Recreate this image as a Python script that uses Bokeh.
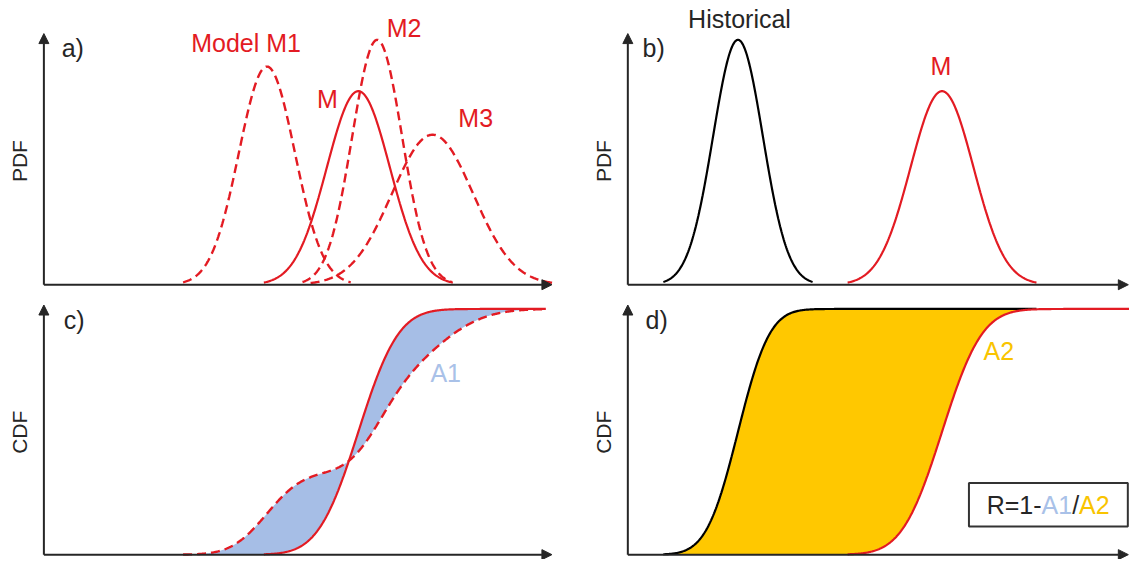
import math
import numpy as np
from bokeh.plotting import figure
from bokeh.layouts import column, row
from bokeh.models import Range1d, Arrow, NormalHead, Label, BoxAnnotation
from bokeh.embed import file_html
from bokeh.resources import INLINE

# ---------------- data (x in axis units: x-axis length = 10) ----------------
model_names = ["Model M1", "M2", "M3"]
model_means = [4.39, 6.56, 7.65]
model_sds = [0.55, 0.49, 0.80]
m_name = "M"
m_mean = 6.19
m_sd = 0.62
hist_name = "Historical"
hist_mean = 2.17
hist_sd = 0.49
cut_sd = 3.0          # each curve is drawn within +/- 3 sd
panel_tags = ["a)", "b)", "c)", "d)"]
area_names = ["A1", "A2"]

RED = "#e31b23"
BLUE_FILL = "#a6bee6"
BLUE_TXT = "#a9c1e8"
YELLOW = "#ffc800"
YELLOW_TXT = "#f9c400"
DARK = "#262626"
FONT = "Liberation Sans"
FS = "25px"
FS_AX = "21px"

erf = np.vectorize(math.erf)


def pdf(x, mu, sd):
    return np.exp(-0.5 * ((x - mu) / sd) ** 2) / (sd * math.sqrt(2 * math.pi))


def cdf(x, mu, sd):
    return 0.5 * (1 + erf((x - mu) / (sd * math.sqrt(2))))


def make_fig(w, h, xr, yr):
    p = figure(width=w, height=h, x_range=Range1d(*xr), y_range=Range1d(*yr),
               output_backend="svg", toolbar_location=None, min_border=0)
    p.axis.visible = False
    p.grid.visible = False
    p.outline_line_color = None
    p.background_fill_color = "white"
    return p


def axes(p, xend, yend):
    p.add_layout(Arrow(end=NormalHead(size=10, fill_color=DARK, line_color=DARK),
                       x_start=0, y_start=0, x_end=xend, y_end=0,
                       line_color=DARK, line_width=2))
    p.add_layout(Arrow(end=NormalHead(size=10, fill_color=DARK, line_color=DARK),
                       x_start=0, y_start=0, x_end=0, y_end=yend,
                       line_color=DARK, line_width=2))


def label(p, x, y, text, color=DARK, align="center", size=FS, angle=0,
          baseline="alphabetic", xoff=0):
    p.add_layout(Label(x=x, y=y, text=text, text_color=color, text_align=align,
                       text_baseline=baseline, text_font_size=size,
                       text_font=FONT, angle=angle, x_offset=xoff))


WL, WR, HT, HB = 582, 547, 292, 267
XL = (-0.854, 10.602)
XR = (-0.893, 9.883)
YT = (-0.0259, 0.945)
YB = (-0.0198, 1.067)
DASH = "9 5"

# ---------------- a) ----------------
pa = make_fig(WL, HT, XL, YT)
for mu, sd in zip(model_means, model_sds):
    x = np.linspace(mu - cut_sd * sd, mu + cut_sd * sd, 240)
    pa.line(x, pdf(x, mu, sd), line_color=RED, line_width=2.4, line_dash=DASH)
x = np.linspace(m_mean - cut_sd * m_sd, m_mean + cut_sd * m_sd, 240)
pa.line(x, pdf(x, m_mean, m_sd), line_color=RED, line_width=2.2)
axes(pa, 10.0, 0.835)
label(pa, 3.98, 0.803, model_names[0], RED)
label(pa, 7.09, 0.855, model_names[1], RED)
label(pa, 8.50, 0.554, model_names[2], RED)
label(pa, 5.58, 0.619, m_name, RED)
label(pa, 0.35, 0.787, panel_tags[0], DARK, align="left")
label(pa, -0.485, 0.411, "PDF", DARK, size=FS_AX, angle=math.pi / 2,
      baseline="middle")

# ---------------- b) ----------------
pb = make_fig(WR, HT, XR, YT)
x = np.linspace(hist_mean - cut_sd * hist_sd, hist_mean + cut_sd * hist_sd, 240)
pb.line(x, pdf(x, hist_mean, hist_sd), line_color="black", line_width=2.2)
x = np.linspace(m_mean - cut_sd * m_sd, m_mean + cut_sd * m_sd, 240)
pb.line(x, pdf(x, m_mean, m_sd), line_color=RED, line_width=2.2)
axes(pb, 9.86, 0.835)
label(pb, 2.20, 0.884, hist_name, DARK)
label(pb, 6.17, 0.726, m_name, RED)
label(pb, 0.29, 0.787, panel_tags[1], DARK, align="left")
label(pb, -0.485, 0.411, "PDF", DARK, size=FS_AX, angle=math.pi / 2,
      baseline="middle")

# ---------------- c) ----------------
pc = make_fig(WL, HB, XL, YB)
x0 = model_means[0] - cut_sd * model_sds[0]
xc = np.linspace(x0, 9.88, 500)
mix = np.mean([cdf(xc, mu, sd) for mu, sd in zip(model_means, model_sds)], axis=0)
cm = cdf(xc, m_mean, m_sd)
pc.varea(x=xc, y1=cm, y2=mix, fill_color=BLUE_FILL)
pc.line(xc, mix, line_color=RED, line_width=2.4, line_dash=DASH)
xs = np.linspace(m_mean - cut_sd * m_sd, 9.88, 400)
pc.line(xs, cdf(xs, m_mean, m_sd), line_color=RED, line_width=2.2)
axes(pc, 10.0, 1.016)
label(pc, 7.91, 0.741, area_names[0], BLUE_TXT)
label(pc, 0.39, 0.954, panel_tags[2], DARK, align="left")
label(pc, -0.485, 0.498, "CDF", DARK, size=FS_AX, angle=math.pi / 2,
      baseline="middle")

# ---------------- d) ----------------
pd_ = make_fig(WR, HB, XR, YB)
x0 = hist_mean - cut_sd * hist_sd
xd = np.linspace(x0, 9.88, 500)
ch = cdf(xd, hist_mean, hist_sd)
cmd = cdf(xd, m_mean, m_sd)
pd_.varea(x=xd, y1=cmd, y2=ch, fill_color=YELLOW)
xh = np.linspace(x0, m_mean + cut_sd * m_sd, 400)
pd_.line(xh, cdf(xh, hist_mean, hist_sd), line_color="black", line_width=2.2)
xm = np.linspace(m_mean - cut_sd * m_sd, 9.88, 400)
pd_.line(xm, cdf(xm, m_mean, m_sd), line_color=RED, line_width=2.2)
axes(pd_, 9.86, 1.016)
label(pd_, 7.31, 0.827, area_names[1], YELLOW_TXT)
label(pd_, 0.35, 0.954, panel_tags[3], DARK, align="left")
label(pd_, -0.485, 0.498, "CDF", DARK, size=FS_AX, angle=math.pi / 2,
      baseline="middle")
pd_.add_layout(BoxAnnotation(left=6.72, right=9.85, bottom=0.115, top=0.292,
                             fill_color="white", fill_alpha=1.0,
                             line_color="#333333", line_alpha=1.0,
                             line_width=2))
bx = 7.07
parts = [("R=1-", DARK, 0.0), (area_names[0], BLUE_TXT, 54.9),
         ("/", DARK, 85.5), (area_names[1], YELLOW_TXT, 92.4)]
for t, c, off in parts:
    label(pd_, bx, 0.204, t, c, align="left", xoff=off)

layout = column(row(pa, pb), row(pc, pd_))
open("out.html", "w").write(file_html(layout, INLINE))
